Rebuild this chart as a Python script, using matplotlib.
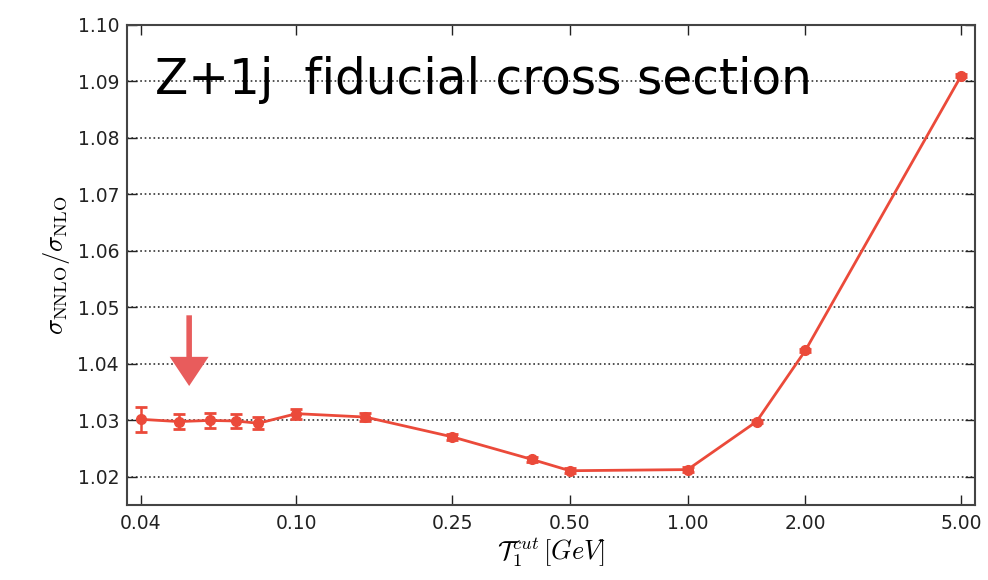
import matplotlib
matplotlib.use("Agg")
import matplotlib.pyplot as plt
from matplotlib.ticker import FixedLocator, FixedFormatter, NullLocator

plt.rcParams['mathtext.fontset'] = 'cm'
plt.rcParams['font.family'] = 'DejaVu Sans'

# tau cut values and NNLO/NLO ratio with MC errors
tau_cut = [0.04, 0.05, 0.06, 0.07, 0.08, 0.10, 0.15, 0.25, 0.40, 0.50, 1.00, 1.50, 2.00, 5.00]
ratio = [1.0302, 1.0298, 1.0300, 1.0299, 1.0295, 1.0312, 1.0306, 1.0271, 1.0231,
         1.0211, 1.0213, 1.0298, 1.0424, 1.0910]
ratio_err = [0.0022, 0.0014, 0.0013, 0.0012, 0.0011, 0.0009, 0.0007, 0.0005, 0.0004,
             0.0004, 0.0004, 0.0003, 0.0003, 0.0003]

xticks = [0.04, 0.10, 0.25, 0.50, 1.00, 2.00, 5.00]
xticklabels = ["0.04", "0.10", "0.25", "0.50", "1.00", "2.00", "5.00"]
yticks = [1.02, 1.03, 1.04, 1.05, 1.06, 1.07, 1.08, 1.09, 1.10]

red = "#eb4a3a"

fig = plt.figure(figsize=(9.88, 5.8), dpi=100)
ax = fig.add_axes([0.129, 0.129, 0.858, 0.828])

ax.errorbar(tau_cut, ratio, yerr=ratio_err, color=red, lw=2, marker='o', ms=7,
            mec=red, capsize=4, capthick=2, elinewidth=1.8, zorder=3)

ax.set_xscale('log')
ax.set_xlim(0.037, 5.43)
ax.set_ylim(1.015, 1.10)
ax.xaxis.set_major_locator(FixedLocator(xticks))
ax.xaxis.set_major_formatter(FixedFormatter(xticklabels))
ax.xaxis.set_minor_locator(NullLocator())
ax.set_yticks(yticks)
ax.set_yticklabels(["%.2f" % v for v in yticks])
ax.tick_params(direction='in', top=True, right=True, length=7, width=1,
               labelsize=13.5, pad=6, colors='#222222')
ax.yaxis.grid(True, linestyle=':', color='#333333', lw=1.2)
for s in ax.spines.values():
    s.set_linewidth(1.5)
    s.set_color('#444444')

ax.set_ylabel(r'$\sigma_{\rm NNLO}/\sigma_{\rm NLO}$', fontsize=19, labelpad=4)
ax.set_xlabel(r'$\mathcal{T}_1^{cut}\,[GeV]$', fontsize=19, labelpad=2)

ax.text(0.033, 0.885, "Z+1j  fiducial cross section", transform=ax.transAxes,
        fontsize=35, color='black', va='center', ha='left')

# arrow marking the small-cut region
ax.annotate('', xy=(0.0532, 1.0356), xytext=(0.0532, 1.0491),
            arrowprops=dict(arrowstyle='simple,head_width=1.4,head_length=1.05,tail_width=0.2',
                            mutation_scale=20, color='#e85c5c', lw=0))

fig.savefig("out.png", dpi=100)
